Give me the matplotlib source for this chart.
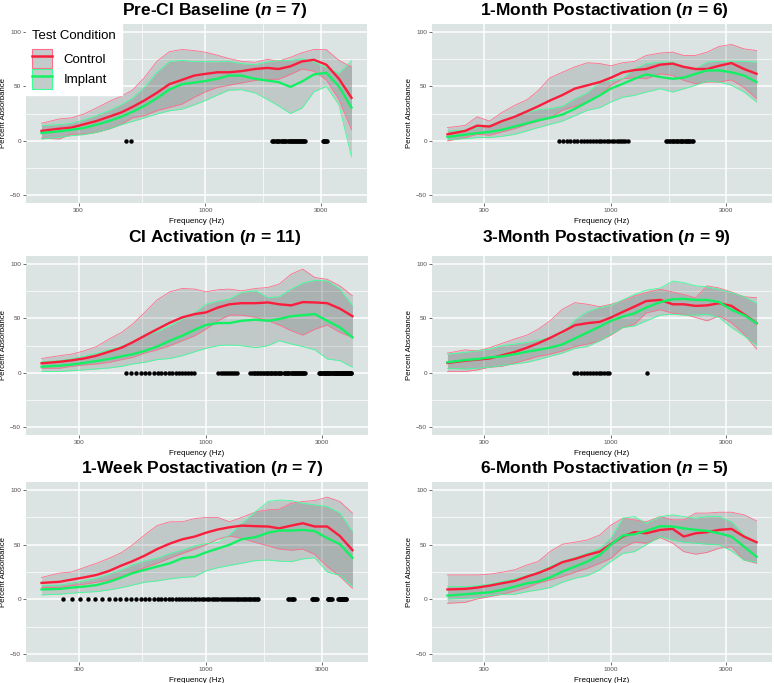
import numpy as np
import matplotlib.pyplot as plt
from matplotlib.patches import Patch
from matplotlib.lines import Line2D

plt.rcParams['font.family'] = ['Liberation Sans', 'DejaVu Sans']
plt.rcParams['mathtext.fontset'] = 'custom'
plt.rcParams['mathtext.it'] = 'Liberation Sans:bold:italic'

# frequencies (Hz) where curves were read
freqs = [211, 250, 280, 315, 355, 400, 450, 500, 560, 630, 710, 800, 900, 1000,
         1120, 1250, 1400, 1600, 1800, 2000, 2240, 2500, 2800, 3150, 3550, 4000]
# spacing of the measured frequency bins (significance markers)
bin_step = 23.4375

# Pre-CI Baseline
pre_ctrl_mean = [9, 11, 12, 15, 18, 22, 26, 31, 37, 44, 52, 56, 60, 61.5, 63, 63, 64, 66, 67, 66, 68.5, 73, 74.5, 70, 57, 39.5]
pre_ctrl_hi = [16, 20, 21, 24.5, 30, 36, 41, 46.5, 58, 73, 82, 84, 83, 81.5, 78.7, 75.7, 73.2, 72.2, 75, 73.2, 76.8, 81, 84, 83.8, 74, 68]
pre_ctrl_lo = [2.4, 1.5, 6, 6, 7.6, 10.7, 15, 21, 23, 27.5, 30.6, 33.6, 40, 45, 49, 51, 53, 55.5, 56.5, 56.5, 61, 66, 64, 56, 38, 10]
pre_impl_mean = [7, 8.6, 10, 11.6, 14.7, 18, 22, 26.6, 32, 39, 47, 52, 53.5, 55, 57, 60, 60, 57, 55.3, 54, 49.5, 54.5, 61, 62.5, 50, 30.5]
pre_impl_hi = [13.8, 14.7, 16, 19, 23, 27.5, 33, 39, 49, 62.7, 72.8, 74, 72.8, 72.8, 72.7, 73, 71, 70, 72.5, 73.7, 74, 75.4, 72.4, 67.4, 62, 73.7]
pre_impl_lo = [1.5, 3, 4.6, 5.5, 7.6, 10.7, 14.7, 17.7, 21, 24.5, 27.5, 29, 33, 37, 42, 46.5, 47, 44, 38, 32, 25, 30, 45, 50, 33, -15]
pre_sig = [(469, 492), (1875, 2578), (3047, 3164)]

# 1-Month Postactivation
m1_ctrl_mean = [5.8, 9, 13.8, 13, 18, 22, 27, 31.6, 37, 42, 48, 51, 54, 58, 63, 65, 66, 70, 71, 68, 66, 66, 69, 71.5, 66, 61.6]
m1_ctrl_hi = [12, 14, 22, 18, 26, 32.5, 37.7, 46, 58, 63, 68, 71.8, 71, 69, 71.8, 73, 78.5, 80.7, 81.6, 78.5, 78.5, 81.6, 86.8, 88.6, 84.6, 83]
m1_ctrl_lo = [-0.3, 2.8, 5.8, 5, 8, 11, 15, 18, 21, 28, 31.6, 35.6, 41.7, 51, 57, 58, 57, 61.6, 60, 55.5, 52.4, 54, 54, 56, 49, 38.6]
m1_impl_mean = [3.4, 5.5, 7, 8, 10, 13, 16, 18.7, 21, 24, 29.4, 35.6, 41.7, 48, 52.4, 57, 61, 58.6, 57, 58, 61.6, 64.7, 64.7, 63, 60, 54]
m1_impl_hi = [9, 9.5, 12, 14, 17, 22, 26, 28.5, 29.4, 31.6, 38.6, 44, 54, 55.5, 57, 66, 71, 72.4, 72.4, 67.8, 66, 72.4, 73, 73.3, 73, 72.4]
m1_impl_lo = [1, 1.8, 2.8, 2.8, 4, 5.8, 9, 12, 15, 18, 23, 28, 30.4, 35.6, 40, 41.7, 44.8, 47.8, 44.8, 47.8, 51, 55, 54, 51, 44.8, 35.6]
m1_sig = [(609, 1172), (1688, 2180)]

# CI Activation
ci_ctrl_mean = [8.6, 10, 11.3, 13, 15.6, 19.3, 23, 28, 34, 40, 46, 51, 54, 55.5, 60, 63, 64, 64, 64.7, 63, 62, 65, 64.7, 64, 59, 52]
ci_ctrl_hi = [13, 15.6, 17, 20, 24, 31, 37, 44.8, 55.5, 67, 74.5, 77.6, 77, 74.5, 76.4, 77, 75.4, 77.6, 78.5, 81.6, 90.8, 95.4, 87.7, 86, 80, 70.8]
ci_ctrl_lo = [4, 4, 5.8, 7, 8, 9.5, 12, 14, 18, 21, 24.8, 29.4, 34, 40, 47.8, 53, 53, 51, 47.8, 43.9, 38.6, 34.6, 40, 43.9, 37, 32.5]
ci_impl_mean = [5.5, 6.4, 7.4, 8.9, 10.7, 12.6, 15, 17, 20, 24, 29.4, 34, 39.6, 43.9, 45.7, 45.7, 47.8, 48.8, 47.8, 49.4, 52, 53, 54, 47.8, 41.7, 32.5]
ci_impl_hi = [10, 11, 12.6, 15, 17.8, 21, 24, 28.5, 34, 37.7, 43, 49.4, 55, 63, 66, 67.8, 74, 75.4, 69, 70, 77, 82.5, 85, 84.6, 77, 61.6]
ci_impl_lo = [1, 1, 1.8, 2.5, 3.4, 4.3, 5.8, 8, 9.5, 12, 13, 15.6, 19.3, 22.4, 24.8, 25.5, 24.8, 23, 24.8, 29.4, 26.4, 24, 21, 12.6, 11, 4.9]
ci_sig = [(469, 891), (1125, 1336), (1523, 2039), (2086, 2555), (2906, 3281), (3328, 3961)]

# 3-Month Postactivation
m3_ctrl_mean = [8.9, 11, 12, 13, 16, 19, 23, 27, 32, 37.6, 43.7, 45.6, 46.8, 50.8, 56, 60.8, 66, 67, 63, 63, 61.5, 62, 64, 61.5, 53.8, 45.6]
m3_ctrl_hi = [18, 21, 20, 23, 27, 31, 34.6, 40, 47.7, 58.4, 64.5, 63, 60.8, 63, 66, 70.6, 73.7, 76.8, 74.3, 72, 69, 80, 78, 74.3, 70, 69]
m3_ctrl_lo = [1, 1, 2.4, 5, 5.8, 8.9, 12, 15, 17, 20, 24, 26.3, 29.4, 34.6, 41.6, 44.6, 55, 58, 54.7, 53.8, 50.8, 47.7, 52.3, 46, 35.5, 21.7]
m3_impl_mean = [9.5, 11.6, 12.5, 14, 15, 17, 19.3, 21, 23, 26, 31.5, 37, 42.5, 47.7, 51.7, 54.7, 60, 65, 67.6, 68, 67, 67, 65, 58, 53, 45.6]
m3_impl_hi = [17, 18.7, 20, 21.7, 24.8, 26.3, 27.8, 30, 32, 36, 48.6, 56, 60, 62, 67, 72, 76, 78, 84.4, 83, 80, 79, 76.8, 73.7, 70, 64]
m3_impl_lo = [4, 3.4, 4, 5, 6.4, 8, 9.5, 12, 15, 18, 22.3, 24, 29.4, 35.5, 41.6, 43, 47.7, 53, 53.8, 53, 53, 53.8, 50.8, 41.6, 34, 25.4]
m3_sig = [(703, 984), (1406, 1406)]

# 1-Week Postactivation
wk_ctrl_mean = [15, 16, 18, 20, 22.3, 26, 31, 35, 40, 46, 51, 55, 57.5, 61, 64, 66, 67.5, 67, 66.7, 65, 67.5, 69.7, 66.7, 66.7, 58, 45]
wk_ctrl_hi = [20, 24, 25, 29, 33, 37.6, 42.8, 50, 59, 67.6, 71, 71, 74, 75, 75, 71, 75, 80, 82, 82.6, 88, 89.6, 90.5, 93.6, 89.6, 79]
wk_ctrl_lo = [10.7, 10.7, 12.5, 13.8, 15.6, 17.7, 20.8, 24.8, 29, 33, 37.6, 42, 46, 50, 55, 58, 56, 52, 49, 46, 45, 46, 41, 30, 21, 10]
wk_impl_mean = [9, 9.5, 10.7, 11.6, 13, 16, 20, 24, 27, 30, 33, 37.6, 39, 43, 46.5, 50, 55, 57, 61, 63, 63, 63.6, 62.5, 56, 50.5, 38]
wk_impl_hi = [12.5, 13, 14.7, 16.8, 19.3, 23, 27, 31.5, 35, 37.6, 42, 45, 49, 51, 52, 59, 69, 80.4, 89.6, 91, 90.5, 88, 86.5, 85, 79, 62]
wk_impl_lo = [4, 4.6, 5.5, 6.4, 7, 8.6, 10.7, 13, 15.6, 16.8, 18.7, 20, 20.8, 26, 29, 31, 33, 35.5, 36, 35, 34.5, 37, 38, 25, 22, 12]
wk_sig = [(258, 1641), (2180, 2297), (2719, 2859), (3164, 3281), (3492, 3773)]

# 6-Month Postactivation
m6_ctrl_mean = [9, 9.5, 10.7, 12.5, 14.7, 16.8, 20.8, 24, 28.4, 34, 37, 40.7, 43.7, 50.5, 57.5, 61.5, 60.5, 63.6, 64.5, 57.5, 60.5, 61.5, 63.6, 64.5, 57.5, 52.3]
m6_ctrl_hi = [22.3, 22.3, 22.3, 23, 24.8, 27, 31.5, 34.6, 43.7, 50.5, 52.3, 54.4, 59, 68, 74.3, 72.8, 71, 75.8, 72.8, 72.8, 79, 79, 79.8, 79.8, 77.4, 71.9]
m6_ctrl_lo = [-3.7, -2.8, 0.3, 2.4, 4.6, 7.6, 10.7, 14.7, 17.7, 20.8, 24.8, 28.4, 33, 37.6, 47.4, 52.3, 51.4, 56.6, 51.4, 43.7, 41.3, 43, 46.8, 48.3, 36, 33]
m6_impl_mean = [3.4, 4.6, 5.5, 6.4, 8.6, 11.6, 14.7, 16.2, 20, 25.4, 30, 34.6, 40.7, 50, 58.4, 59.6, 62.7, 67, 66.7, 65, 63.6, 62.7, 60.5, 57.5, 48.3, 39]
m6_impl_hi = [11.6, 11.6, 12.5, 13.8, 16.2, 18.6, 21.7, 24.8, 30, 34.6, 38.2, 42.2, 46.8, 56, 74.3, 75.8, 69.7, 75.8, 77.4, 75.8, 74.3, 75.8, 75.8, 71, 59, 51.4]
m6_impl_lo = [0.3, 0.9, 1.5, 3.4, 4.6, 4.6, 7, 8.6, 10.7, 15.6, 19.3, 21.7, 27, 34.6, 42, 43.7, 50, 57.5, 54.4, 52.3, 51.4, 50.5, 50, 44.3, 36, 34]
m6_sig = []

titles = ['Pre-CI Baseline ($n$ = 7)', '1-Month Postactivation ($n$ = 6)',
          'CI Activation ($n$ = 11)', '3-Month Postactivation ($n$ = 9)',
          '1-Week Postactivation ($n$ = 7)', '6-Month Postactivation ($n$ = 5)']

panels = [
    (pre_ctrl_mean, pre_ctrl_lo, pre_ctrl_hi, pre_impl_mean, pre_impl_lo, pre_impl_hi, pre_sig),
    (m1_ctrl_mean, m1_ctrl_lo, m1_ctrl_hi, m1_impl_mean, m1_impl_lo, m1_impl_hi, m1_sig),
    (ci_ctrl_mean, ci_ctrl_lo, ci_ctrl_hi, ci_impl_mean, ci_impl_lo, ci_impl_hi, ci_sig),
    (m3_ctrl_mean, m3_ctrl_lo, m3_ctrl_hi, m3_impl_mean, m3_impl_lo, m3_impl_hi, m3_sig),
    (wk_ctrl_mean, wk_ctrl_lo, wk_ctrl_hi, wk_impl_mean, wk_impl_lo, wk_impl_hi, wk_sig),
    (m6_ctrl_mean, m6_ctrl_lo, m6_ctrl_hi, m6_impl_mean, m6_impl_lo, m6_impl_hi, m6_sig),
]

RED, PINK = '#FA1E3C', '#FF6E8C'
GREEN, LGREEN = '#14F064', '#3CFF96'
BAND = '#3c4444'
BG = '#dce3e3'

W, H = 774, 683
fig = plt.figure(figsize=(W / 100, H / 100), dpi=100)

# axes boxes in pixels: left, top, right, bottom
boxes = [(26, 24, 367, 203), (432, 24, 772, 203),
         (26, 256, 368, 435), (432, 256, 772, 435),
         (26, 482, 368, 662), (432, 482, 772, 662)]
title_pos = [(215, 10), (604, 10), (215, 238), (606, 238), (202, 468), (604, 468)]

lx0, lx1 = np.log10(211), np.log10(4000)
pad = 0.05 * (lx1 - lx0)

for i, (box, ttl, p) in enumerate(zip(boxes, titles, panels)):
    l, t, r, b = box
    ax = fig.add_axes([l / W, 1 - b / H, (r - l) / W, (b - t) / H])
    ax.set_facecolor(BG)
    c_mean, c_lo, c_hi, i_mean, i_lo, i_hi, sig = p

    ax.fill_between(freqs, c_lo, c_hi, color=BAND, alpha=0.17, lw=0, zorder=2)
    ax.fill_between(freqs, i_lo, i_hi, color=BAND, alpha=0.17, lw=0, zorder=2)
    for arr in (c_lo, c_hi):
        ax.plot(freqs, arr, color=PINK, lw=0.6, zorder=3)
    for arr in (i_lo, i_hi):
        ax.plot(freqs, arr, color=LGREEN, lw=0.6, zorder=3)
    ax.plot(freqs, c_mean, color=RED, lw=1.7, zorder=4)
    ax.plot(freqs, i_mean, color=GREEN, lw=1.7, zorder=4)

    # significant bins drawn as dots at 0
    for lo, hi in sig:
        k = np.arange(round(lo / bin_step), round(hi / bin_step) + 1)
        f = k * bin_step
        ax.plot(f, np.zeros_like(f), 'o', color='black', ms=3.2, mew=0, zorder=5)

    ax.set_xscale('log')
    ax.set_xlim(10 ** (lx0 - pad), 10 ** (lx1 + pad))
    ax.set_ylim(-57.5, 107.5)
    ax.set_xticks([300, 1000, 3000])
    ax.set_xticklabels(['300', '1000', '3000'])
    ax.set_xticks([np.sqrt(300 * 1000), np.sqrt(1000 * 3000)], minor=True)
    ax.set_yticks([-50, 0, 50, 100])
    ax.set_yticks([-25, 25, 75], minor=True)
    ax.xaxis.set_minor_formatter(plt.NullFormatter())
    ax.grid(which='major', color='white', lw=1.1, zorder=0)
    ax.grid(which='minor', color='white', lw=0.5, zorder=0)
    ax.set_axisbelow(True)
    ax.tick_params(which='major', length=2, width=0.5, color='#333333',
                   labelsize=4.6, labelcolor='#4d4d4d', pad=1.5)
    ax.tick_params(which='minor', length=0)
    for s in ax.spines.values():
        s.set_visible(False)
    ax.set_xlabel('Frequency (Hz)', fontsize=5.8, labelpad=1)
    ax.set_ylabel('Percent Absorbance', fontsize=5.6)
    ax.yaxis.set_label_coords(-0.057, 0.5)
    ax.xaxis.set_label_coords(0.5, -0.085)

    tx, ty = title_pos[i]
    fig.text(tx / W, 1 - ty / H, ttl, fontsize=12.5, fontweight='bold',
             ha='center', va='center')

    if i == 0:
        handles = [(Patch(facecolor='#c4cccb', edgecolor=PINK, lw=0.8),
                    Line2D([], [], color=RED, lw=1.8)),
                   (Patch(facecolor='#c4cccb', edgecolor=LGREEN, lw=0.8),
                    Line2D([], [], color=GREEN, lw=1.8))]
        leg = ax.legend(handles, ['Control', 'Implant'], title='Test Condition',
                        loc='upper left', bbox_to_anchor=(0, 1), borderaxespad=0,
                        fontsize=9.5, title_fontsize=9.5, frameon=True, fancybox=False,
                        handlelength=1.55, handleheight=1.9, handletextpad=0.85,
                        labelspacing=0.05, borderpad=0.45, alignment='left')
        leg._legend_box.sep = 5
        leg.get_frame().set_facecolor('white')
        leg.get_frame().set_edgecolor('white')
        leg.get_frame().set_alpha(1)
        leg.set_zorder(10)

fig.savefig('out.png', dpi=100)
